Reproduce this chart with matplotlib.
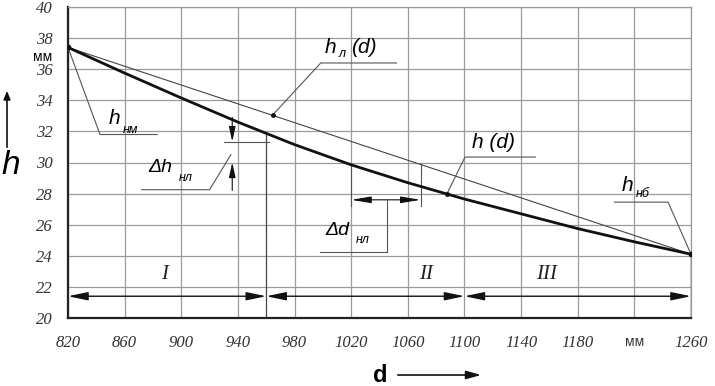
import matplotlib.pyplot as plt

# curve h(d)
d_vals = [820, 860, 900, 940, 980, 1020, 1060, 1100, 1140, 1180, 1220, 1260]
h_vals = [37.4, 35.75, 34.15, 32.6, 31.15, 29.85, 28.7, 27.65, 26.7, 25.75, 24.9, 24.1]

# straight line h_л(d)
dl_vals = [820, 1260]
hl_vals = [37.4, 24.1]

x_ticks = [820, 860, 900, 940, 980, 1020, 1060, 1100, 1140, 1180, 1220, 1260]
x_labels = ['820', '860', '900', '940', '980', '1020', '1060', '1100', '1140', '1180', 'мм', '1260']
y_ticks = [20, 22, 24, 26, 28, 30, 32, 34, 36, 38, 40]

zones = [(820, 960, 'I'), (960, 1100, 'II'), (1100, 1260, 'III')]
zone_label_x = [888, 1073, 1158]

serif = 'Liberation Serif'
sans = 'Liberation Sans'
grid_c = '#9a9a9a'
lead_c = '#555555'

fig = plt.figure(figsize=(7.15, 3.86), dpi=100)
ax = fig.add_axes([68 / 715, 1 - 318 / 386, (691 - 68) / 715, (318 - 7) / 386])
ax.set_xlim(820, 1260)
ax.set_ylim(20, 40)

for x in x_ticks:
    ax.axvline(x, color=grid_c, lw=0.9, zorder=1)
for y in y_ticks:
    ax.axhline(y, color=grid_c, lw=0.9, zorder=1)

for side in ['top', 'right']:
    ax.spines[side].set_color(grid_c)
    ax.spines[side].set_linewidth(0.9)
for side in ['left', 'bottom']:
    ax.spines[side].set_color('#222222')
    ax.spines[side].set_linewidth(1.6)

ax.set_xticks(x_ticks)
ax.set_xticklabels(x_labels)
ax.set_yticks(y_ticks)
ax.tick_params(length=0, pad=12)
ax.tick_params(axis='y', pad=11)
for lab in ax.get_xticklabels() + ax.get_yticklabels():
    lab.set_fontfamily(serif)
    lab.set_fontstyle('italic')
    lab.set_fontsize(12)
    lab.set_color('#333333')
mm = ax.get_xticklabels()[10]
mm.set_fontfamily(sans)
mm.set_fontstyle('normal')
mm.set_fontsize(10)

# lines
ax.plot(dl_vals, hl_vals, color='#444444', lw=0.8, zorder=3)
ax.plot(d_vals, h_vals, color='#111111', lw=2.0, zorder=4)
ax.plot([820, 1260], [37.4, 24.1], 'o', color='#111111', ms=3, zorder=5)

# zone dimension arrows
for a, b, name in zones:
    ax.annotate('', xy=(b, 21.4), xytext=(a, 21.4),
                arrowprops=dict(arrowstyle='<|-|>,head_length=1.2,head_width=0.25',
                                color='#111111', lw=1.0, shrinkA=0, shrinkB=0))
for (a, b, name), xl in zip(zones, zone_label_x):
    ax.text(xl, 22.8, name, fontfamily=serif, fontstyle='italic', fontsize=15,
            ha='center', va='center', color='#222222')
ax.plot([960, 960], [20, 31.9], color='#444444', lw=0.9, zorder=2)
ax.plot([1260, 1260], [20, 24.1], color='#222222', lw=1.0, zorder=2)

# leader h_нм
ax.plot([820, 842.6, 883], [37.4, 31.8, 31.8], color=lead_c, lw=0.8, zorder=3)
ax.text(852.5, 32.85, 'h', fontfamily=sans, fontstyle='italic', fontsize=15, ha='center', va='center')
ax.text(864, 32.1, 'нм', fontfamily=sans, fontstyle='italic', fontsize=9, ha='center', va='center')

# Δh_нл dimension
ax.plot([930, 962], [31.35, 31.35], color=lead_c, lw=0.8, zorder=3)
ax.annotate('', xy=(936, 31.35), xytext=(936, 32.9),
            arrowprops=dict(arrowstyle='-|>,head_length=0.9,head_width=0.2', color='#111111',
                            lw=0.8, shrinkA=0, shrinkB=0))
ax.annotate('', xy=(936, 30.0), xytext=(936, 28.2),
            arrowprops=dict(arrowstyle='-|>,head_length=0.9,head_width=0.2', color='#111111',
                            lw=0.8, shrinkA=0, shrinkB=0))
ax.plot([935, 920, 872], [30.5, 28.25, 28.25], color=lead_c, lw=0.8, zorder=3)
ax.text(885.5, 29.7, 'Δh', fontfamily=sans, fontstyle='italic', fontsize=14, ha='center', va='center')
ax.text(903, 29.0, 'нл', fontfamily=sans, fontstyle='italic', fontsize=9, ha='center', va='center')

# Δd_нл dimension
ax.plot([1069, 1069], [29.9, 27.2], color=lead_c, lw=0.8, zorder=3)
ax.plot([1020, 1020], [29.85, 27.2], color=lead_c, lw=0.8, zorder=3)
ax.annotate('', xy=(1069, 27.6), xytext=(1020, 27.6),
            arrowprops=dict(arrowstyle='<|-|>,head_length=1.2,head_width=0.2', color='#111111',
                            lw=0.8, shrinkA=0, shrinkB=0))
ax.plot([1045, 1045, 998], [27.6, 24.25, 24.25], color=lead_c, lw=0.8, zorder=3)
ax.text(1010.5, 25.6, 'Δd', fontfamily=sans, fontstyle='italic', fontsize=14, ha='center', va='center')
ax.text(1028.5, 25.0, 'нл', fontfamily=sans, fontstyle='italic', fontsize=9, ha='center', va='center')

# leader h_л(d)
ax.plot([964.8, 998.5, 1052], [33.08, 36.4, 36.4], color=lead_c, lw=0.8, zorder=3)
ax.plot([964.8], [33.08], 'o', color='#111111', ms=2.5, zorder=5)
ax.text(1005.7, 37.4, 'h', fontfamily=sans, fontstyle='italic', fontsize=15, ha='center', va='center')
ax.text(1013.5, 36.95, 'л', fontfamily=sans, fontstyle='italic', fontsize=9, ha='center', va='center')
ax.text(1029, 37.4, '(d)', fontfamily=sans, fontstyle='italic', fontsize=15, ha='center', va='center')

# leader h(d)
ax.plot([1087.7, 1100.4, 1150], [28.0, 30.35, 30.35], color=lead_c, lw=0.8, zorder=3)
ax.plot([1087.7], [28.0], 'o', color='#111111', ms=2.5, zorder=5)
ax.text(1120.8, 31.3, 'h (d)', fontfamily=sans, fontstyle='italic', fontsize=15, ha='center', va='center')

# leader h_нб
ax.plot([1260, 1243.8, 1206], [24.1, 27.45, 27.45], color=lead_c, lw=0.8, zorder=3)
ax.text(1214.8, 28.55, 'h', fontfamily=sans, fontstyle='italic', fontsize=15, ha='center', va='center')
ax.text(1226, 28.0, 'нб', fontfamily=sans, fontstyle='italic', fontsize=9, ha='center', va='center')

# axis names
fig.text(43 / 715, 1 - 57 / 386, 'мм', fontfamily=sans, fontsize=10, ha='center', va='center')
fig.text(11 / 715, 1 - 166 / 386, 'h', fontfamily=sans, fontstyle='italic', fontsize=24,
         ha='center', va='center')
fig.add_artist(plt.matplotlib.patches.FancyArrowPatch(
    (7 / 715, 1 - 150 / 386), (7 / 715, 1 - 88 / 386), transform=fig.transFigure,
    arrowstyle='-|>,head_length=5,head_width=2', color='#111111', lw=1.2))
fig.text(380 / 715, 1 - 375 / 386, 'd', fontfamily=sans, fontweight='bold', fontsize=17,
         ha='center', va='center')
fig.add_artist(plt.matplotlib.patches.FancyArrowPatch(
    (395 / 715, 1 - 375 / 386), (484 / 715, 1 - 375 / 386), transform=fig.transFigure,
    arrowstyle='-|>,head_length=9,head_width=2.5', color='#111111', lw=1.2))

fig.savefig('out.png', dpi=100)
